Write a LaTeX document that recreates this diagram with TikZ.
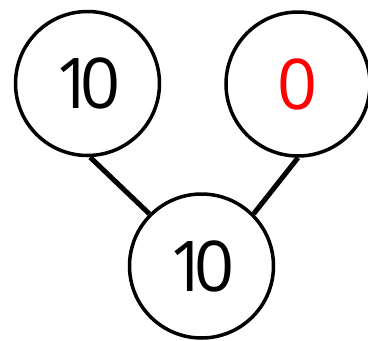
\documentclass[tikz,border=0pt]{standalone}
\usepackage{fontspec}
\setmainfont{Open Sans}
\usetikzlibrary{positioning}

\begin{document}
\begin{tikzpicture}[x=1pt, y=-1pt,
    numcirc/.style={draw, circle, line width=3.5pt, minimum size=144pt, inner sep=0pt, font=\fontsize{70}{70}\selectfont},
    bond/.style={line width=5pt}
]
\useasboundingbox (0,0) rectangle (368,341);
\node[numcirc] (left) at (87.5,83.5) {1\kern-15pt0};
\node[numcirc, text=red] (right) at (298,84) {0};
\node[numcirc] (whole) at (201.5,266) {1\kern-15pt0};

\draw[bond] (left.-88) -- (whole.135);
\draw[bond] (right.south) -- (whole.45);
\end{tikzpicture}
\end{document}
